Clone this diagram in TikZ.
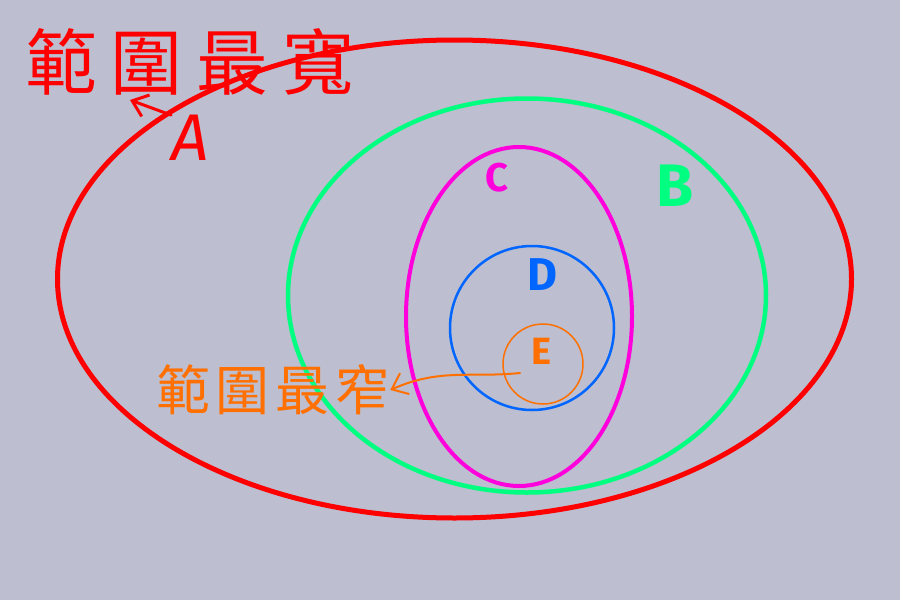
\documentclass[tikz,border=0pt]{standalone}
\usepackage{fontspec}
\setsansfont{Fira Sans}
\newfontfamily\cjkfont{Noto Sans CJK TC}
\usetikzlibrary{arrows.meta,positioning}
\definecolor{vnbg}{RGB}{189,190,208}
\definecolor{vnred}{RGB}{255,0,0}
\definecolor{vngreen}{RGB}{0,255,128}
\definecolor{vnpink}{RGB}{255,0,220}
\definecolor{vnblue}{RGB}{0,102,255}
\definecolor{vnorange}{RGB}{255,112,0}
\tikzset{
  set/.style   = {line width=#1},
  lbl/.style   = {font=\sffamily\bfseries, inner sep=0pt},
  note/.style  = {font=\cjkfont, inner sep=0pt},
  hand/.style  = {-{Straight Barb[length=5mm,width=8mm]}, line cap=round},
}
\begin{document}
\begin{tikzpicture}[x=1pt,y=-1pt]
  % --- canvas
  \fill[vnbg] (0,0) rectangle (900,600);
  \useasboundingbox (0,0) rectangle (900,600);

  % --- the nested sets
  \draw[set=5pt, vnred]      (454.5,279) ellipse [x radius=397, y radius=239];
  \draw[set=4.5pt, vngreen]  (527,295.5) ellipse [x radius=239, y radius=197];
  \draw[set=4pt, vnpink]     (519,316.5) ellipse [x radius=113, y radius=169.5];
  \draw[set=2.5pt, vnblue]   (532,328) circle [radius=82];
  \draw[set=1.5pt, vnorange] (543,364) circle [radius=40];

  % --- set names
  \node[lbl, text=vnred, font=\sffamily\fontsize{66}{70}\selectfont\itshape]
    (lblA) at (190,138) {A};
  \node[lbl, text=vngreen, font=\sffamily\bfseries\fontsize{60}{64}\selectfont]
    (lblB) at (675,186) {B};
  \node[lbl, text=vnpink, font=\sffamily\bfseries\fontsize{40}{44}\selectfont]
    (lblC) at (497,178) {C};
  \node[lbl, text=vnblue, font=\sffamily\bfseries\fontsize{46}{50}\selectfont]
    (lblD) at (542,275) {D};
  \node[lbl, text=vnorange, font=\sffamily\bfseries\fontsize{38}{42}\selectfont]
    (lblE) at (541,351) {E};

  % --- notes
  \node[note, text=vnred, font=\cjkfont\fontsize{72}{76}\selectfont]
    (wide) at (190,62) {範\hspace{14pt}圍\hspace{14pt}最\hspace{14pt}寬};
  \node[note, text=vnorange, font=\cjkfont\fontsize{54}{58}\selectfont]
    (narrow) at (273,390) {範\hspace{6pt}圍\hspace{6pt}最\hspace{6pt}窄};

  \coordinate (wtip) at (130,100);
  \coordinate (estart) at (520,373);
  \draw[hand, vnred, line width=3pt] (lblA.north west) -- (wtip);
  \draw[hand, vnorange, line width=2pt] (estart)
    .. controls (470,378) and (440,368) .. (narrow.east);
\end{tikzpicture}
\end{document}
